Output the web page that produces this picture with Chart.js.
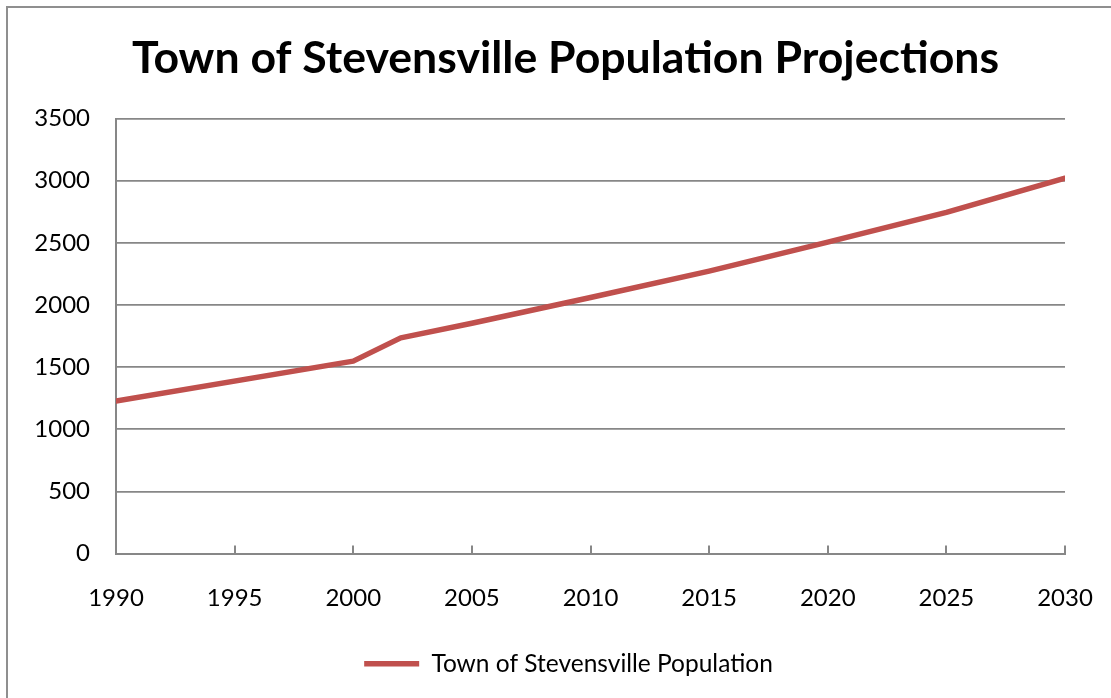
<!DOCTYPE html>
<html>
<head>
<meta charset="utf-8">
<script src="https://cdn.jsdelivr.net/npm/chart.js@4/dist/chart.umd.min.js"></script>
<style>
  html, body { margin: 0; padding: 0; background: #fff; overflow: hidden; }
  #frame { position: absolute; left: 6px; top: 6px; width: 1200px; height: 800px; border: 2px solid #8f8f8f; }
  #wrap { position: absolute; left: 0; top: 0; width: 1111px; height: 698px; }
</style>
</head>
<body>
<div id="frame"></div>
<div id="wrap"><canvas id="popChart" width="1111" height="698"></canvas></div>
<script>
// chart data
const years = [1990, 2000, 2002, 2005, 2010, 2015, 2020, 2025, 2030];
const population = [1226, 1548, 1735, 1853, 2060, 2272, 2505, 2745, 3020];
const yTicks = [0, 500, 1000, 1500, 2000, 2500, 3000, 3500];
const xTicks = [1990, 1995, 2000, 2005, 2010, 2015, 2020, 2025, 2030];

const FONT = 'Lato, "Open Sans", sans-serif';
const GRID = '#878787';

// small tick marks on the x axis, pointing up into the plot
const innerTicks = {
  id: 'innerTicks',
  afterLayout(chart) {
    // title and legend sit a bit right of centre in the original
    chart.legend.left += 36;
    chart.legend.right += 36;
    chart.titleBlock.left += 33;
    chart.titleBlock.right += 33;
  },
  afterDatasetsDraw(chart) {
    const x = chart.scales.x;
    const ctx = chart.ctx;
    const bottom = chart.chartArea.bottom;
    ctx.save();
    ctx.strokeStyle = GRID;
    ctx.lineWidth = 2;
    xTicks.forEach(v => {
      const px = Math.round(x.getPixelForValue(v));
      ctx.beginPath();
      ctx.moveTo(px, bottom);
      ctx.lineTo(px, bottom - 8);
      ctx.stroke();
    });
    ctx.restore();
  }
};

const ctx = document.getElementById('popChart').getContext('2d');
const popChart = new Chart(ctx, {
  type: 'line',
  data: {
    datasets: [{
      label: 'Town of Stevensville Population',
      data: years.map((y, i) => ({ x: y, y: population[i] })),
      borderColor: '#C0504D',
      backgroundColor: '#C0504D',
      borderWidth: 5.5,
      borderCapStyle: 'round',
      borderJoinStyle: 'round',
      pointRadius: 0,
      tension: 0,
      fill: false
    }]
  },
  options: {
    responsive: false,
    animation: false,
    layout: { padding: { left: 0, right: 46, top: 0, bottom: 12 } },
    scales: {
      x: {
        type: 'linear',
        min: 1990,
        max: 2030,
        afterBuildTicks: s => { s.ticks = xTicks.map(v => ({ value: v })); },
        afterFit: s => { s.height = 88; s.paddingLeft = 0; s.paddingRight = 0; },
        ticks: { color: '#000', font: { family: FONT, size: 24 }, padding: 30, maxRotation: 0, callback: v => String(v) },
        grid: { display: false, drawTicks: false },
        border: { display: true, color: GRID, width: 2 }
      },
      y: {
        min: 0,
        max: 3500,
        afterBuildTicks: s => { s.ticks = yTicks.map(v => ({ value: v })); },
        afterFit: s => { s.width = 116; },
        ticks: { color: '#000', font: { family: FONT, size: 24 }, padding: 26, callback: v => String(v) },
        grid: { color: GRID, lineWidth: 1.7, drawTicks: false },
        border: { display: true, color: GRID, width: 2 }
      }
    },
    plugins: {
      title: {
        display: true,
        text: 'Town of Stevensville Population Projections',
        color: '#000',
        font: { family: FONT, size: 44.6, weight: 'bold' },
        padding: { top: 32, bottom: 33 }
      },
      legend: {
        position: 'bottom',
        labels: {
          color: '#000',
          font: { family: FONT, size: 24.5 },
          usePointStyle: true,
          pointStyle: 'line',
          pointStyleWidth: 55,
          padding: 10
        }
      },
      tooltip: { enabled: false }
    }
  },
  plugins: [innerTicks]
});
</script>
</body>
</html>
